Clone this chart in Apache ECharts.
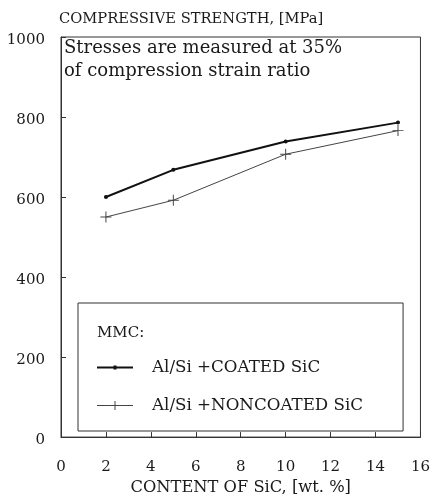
<!DOCTYPE html>
<html><head><meta charset="utf-8">
<script src="https://cdn.jsdelivr.net/npm/echarts@6/dist/echarts.min.js"></script>
<style>html,body{margin:0;padding:0;background:#fff}#c{width:433px;height:501px}</style>
</head><body><div id="c"></div>
<script>
const sicContent = [2, 5, 10, 15];
const coated = [600, 668, 739, 786];
const noncoated = [550, 592, 707, 766];
const seriesNames = ['Al/Si +COATED SiC', 'Al/Si +NONCOATED SiC'];
const yTitle = 'COMPRESSIVE STRENGTH, [MPa]';
const xTitle = 'CONTENT OF SiC, [wt. %]';
const note = 'Stresses are measured at 35%\nof compression strain ratio';
const legendHeader = 'MMC:';

const FONT = 'DejaVu Serif';
const ink = '#1a1a1a';
const plus = 'path://M-5,-0.45 H5 V0.45 H-5 Z M-0.45,-5 H0.45 V5 H-0.45 Z';
const iconCoated = 'path://M0,1 H36 V3 H0 Z M16.5,0 H19.5 V4 H16.5 Z';
const iconNon = 'path://M0,4 H36 V5 H0 Z M17.5,0 H18.5 V9 H17.5 Z';

const chart = echarts.init(document.getElementById('c'), null, {renderer: 'canvas'});
chart.setOption({
  animation: false,
  backgroundColor: '#fff',
  textStyle: {fontFamily: FONT, color: ink},
  grid: {left: 61, right: 12, top: 37, bottom: 53, show: true, borderColor: '#333', borderWidth: 1},
  xAxis: {
    type: 'value', min: 0, max: 16, interval: 2,
    name: xTitle, nameLocation: 'middle', nameGap: 38,
    nameTextStyle: {fontFamily: FONT, fontSize: 16.3, color: ink},
    axisLine: {show: true, lineStyle: {color: '#333'}},
    axisTick: {show: true, inside: true, length: 5, lineStyle: {color: '#333'}},
    axisLabel: {fontFamily: FONT, fontSize: 15, color: ink, margin: 23},
    splitLine: {show: false}
  },
  yAxis: {
    type: 'value', min: 0, max: 1000, interval: 200,
    name: yTitle, nameLocation: 'end', nameGap: 10,
    nameTextStyle: {fontFamily: FONT, fontSize: 14.7, color: ink, align: 'left', verticalAlign: 'bottom', padding: [0, 0, 0, -2]},
    axisLine: {show: true, lineStyle: {color: '#333'}},
    axisTick: {show: true, inside: true, length: 5, lineStyle: {color: '#333'}},
    axisLabel: {fontFamily: FONT, fontSize: 15, color: ink, margin: 16, verticalAlign: 'top', lineHeight: 6, formatter: v => String(v)},
    splitLine: {show: false}
  },
  legend: {
    orient: 'vertical', left: 78, top: 303,
    padding: [56, 40, 17, 19], itemGap: 21,
    itemWidth: 36, itemHeight: 14,
    borderColor: '#333', borderWidth: 1,
    textStyle: {fontFamily: FONT, fontSize: 16.7, color: ink, padding: [0, 0, 0, 14]},
    data: [{name: seriesNames[0], icon: iconCoated}, {name: seriesNames[1], icon: iconNon}]
  },
  graphic: [
    {type: 'text', left: 64, top: 37, style: {text: note, font: '18px "DejaVu Serif"', fill: ink, lineHeight: 23}},
    {type: 'text', left: 97, top: 326, style: {text: legendHeader, font: '15px "DejaVu Serif"', fill: ink}}
  ],
  series: [
    {name: seriesNames[0], type: 'line', data: sicContent.map((x, i) => [x, coated[i]]),
     symbol: 'circle', symbolSize: 4, lineStyle: {color: '#111', width: 2}, itemStyle: {color: '#111'}},
    {name: seriesNames[1], type: 'line', data: sicContent.map((x, i) => [x, noncoated[i]]),
     symbol: plus, symbolSize: 11, lineStyle: {color: '#444', width: 1}, itemStyle: {color: '#444'}}
  ]
});
</script></body></html>
